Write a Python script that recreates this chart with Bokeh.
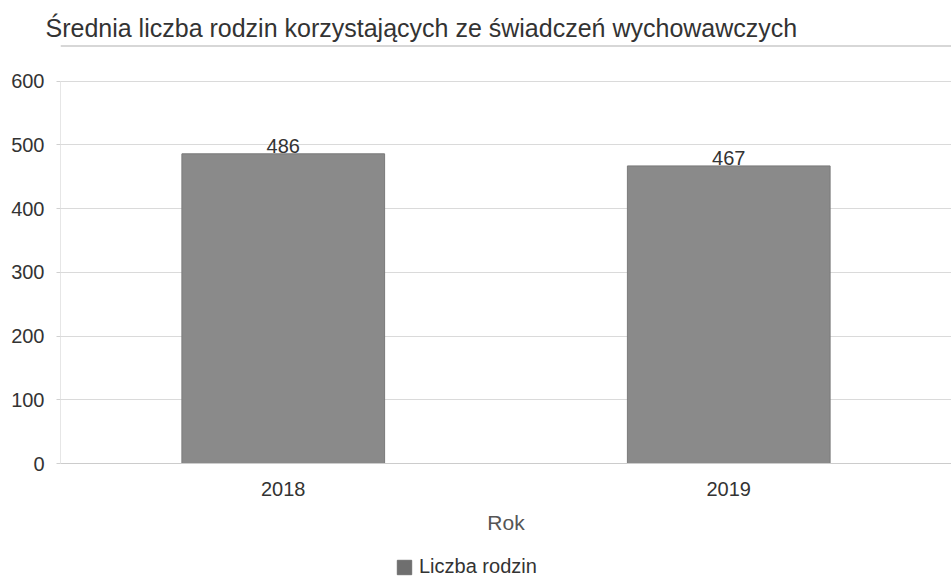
from bokeh.plotting import figure
from bokeh.layouts import column
from bokeh.core.properties import value
from bokeh.models import ColumnDataSource, Span, Legend, LegendItem, FixedTicker, LabelSet
from bokeh.embed import file_html
from bokeh.resources import INLINE

years = ["2018", "2019"]
families = [486, 467]
labels = ["486", "467"]
y_ticks = [0, 100, 200, 300, 400, 500, 600]
series_name = "Liczba rodzin"

src = ColumnDataSource(dict(x=years, y=families, lab=labels))

FONT = "Liberation Sans"
BAR = "#8a8a8a"
p = figure(x_range=years, y_range=(0, 656), width=951, height=545,
           output_backend="svg", toolbar_location=None,
           min_border_left=60, min_border_right=0, min_border_top=45, min_border_bottom=82)
p.outline_line_color = None
p.background_fill_color = "white"

p.title.text = "Średnia liczba rodzin korzystających ze świadczeń wychowawczych"
p.title.text_font = FONT
p.title.text_font_size = "25px"
p.title.text_font_style = "normal"
p.title.text_color = "#333333"
p.title.offset = -15
p.title.standoff = 7

r = p.vbar(x="x", top="y", width=0.455, source=src, fill_color=BAR,
           line_color="#7a7a7a", line_width=1)

p.add_layout(Span(location=656, dimension="width", line_color="#b0b0b0", line_width=2))

p.add_layout(LabelSet(x="x", y="y", text="lab", source=src, text_align="center",
                      text_baseline="bottom", y_offset=1, text_font=value(FONT),
                      text_font_size=value("20px"), text_color="#333333"))

p.yaxis.ticker = FixedTicker(ticks=y_ticks)
p.yaxis.bounds = (0, 600)
p.ygrid.ticker = FixedTicker(ticks=y_ticks)
p.ygrid.grid_line_color = "#dadada"
p.xgrid.grid_line_color = None
p.yaxis.axis_line_color = "#e6e6e6"
p.yaxis.major_tick_line_color = "#d0d0d0"
p.yaxis.major_tick_out = 4
p.yaxis.major_tick_in = 0
p.yaxis.minor_tick_line_color = None
p.yaxis.major_label_text_font = FONT
p.yaxis.major_label_text_font_size = "20px"
p.yaxis.major_label_text_color = "#333333"
p.yaxis.major_label_standoff = 12

p.xaxis.axis_line_color = "#cccccc"
p.xaxis.major_tick_line_color = None
p.xaxis.minor_tick_line_color = None
p.xaxis.major_label_text_font = FONT
p.xaxis.major_label_text_font_size = "20px"
p.xaxis.major_label_text_color = "#333333"
p.xaxis.major_label_standoff = 12
p.xaxis.axis_label = "Rok"
p.xaxis.axis_label_text_font = FONT
p.xaxis.axis_label_text_font_size = "21px"
p.xaxis.axis_label_text_font_style = "normal"
p.xaxis.axis_label_text_color = "#555555"
p.xaxis.axis_label_standoff = 12

# legend strip
p2 = figure(x_range=years, y_range=(0, 656), width=951, height=35,
            output_backend="svg", toolbar_location=None,
            min_border_left=0, min_border_right=0, min_border_top=0, min_border_bottom=0)
p2.axis.visible = False
p2.grid.visible = False
p2.outline_line_color = None
r2 = p2.vbar(x="x", top="y", width=0.455, source=src, fill_color="#6f6f6f",
             line_color="#6f6f6f", visible=False)
legend = Legend(items=[LegendItem(label=series_name, renderers=[r2])],
                orientation="horizontal", location=(335, 2),
                label_text_font=FONT, label_text_font_size="20px", label_text_color="#333333",
                border_line_color=None, background_fill_alpha=0, glyph_width=18, glyph_height=18,
                padding=0, margin=0, label_standoff=6, inactive_fill_alpha=0, click_policy="none")
p2.add_layout(legend, "center")

open("out.html", "w").write(file_html(column(p, p2, spacing=0), INLINE))
